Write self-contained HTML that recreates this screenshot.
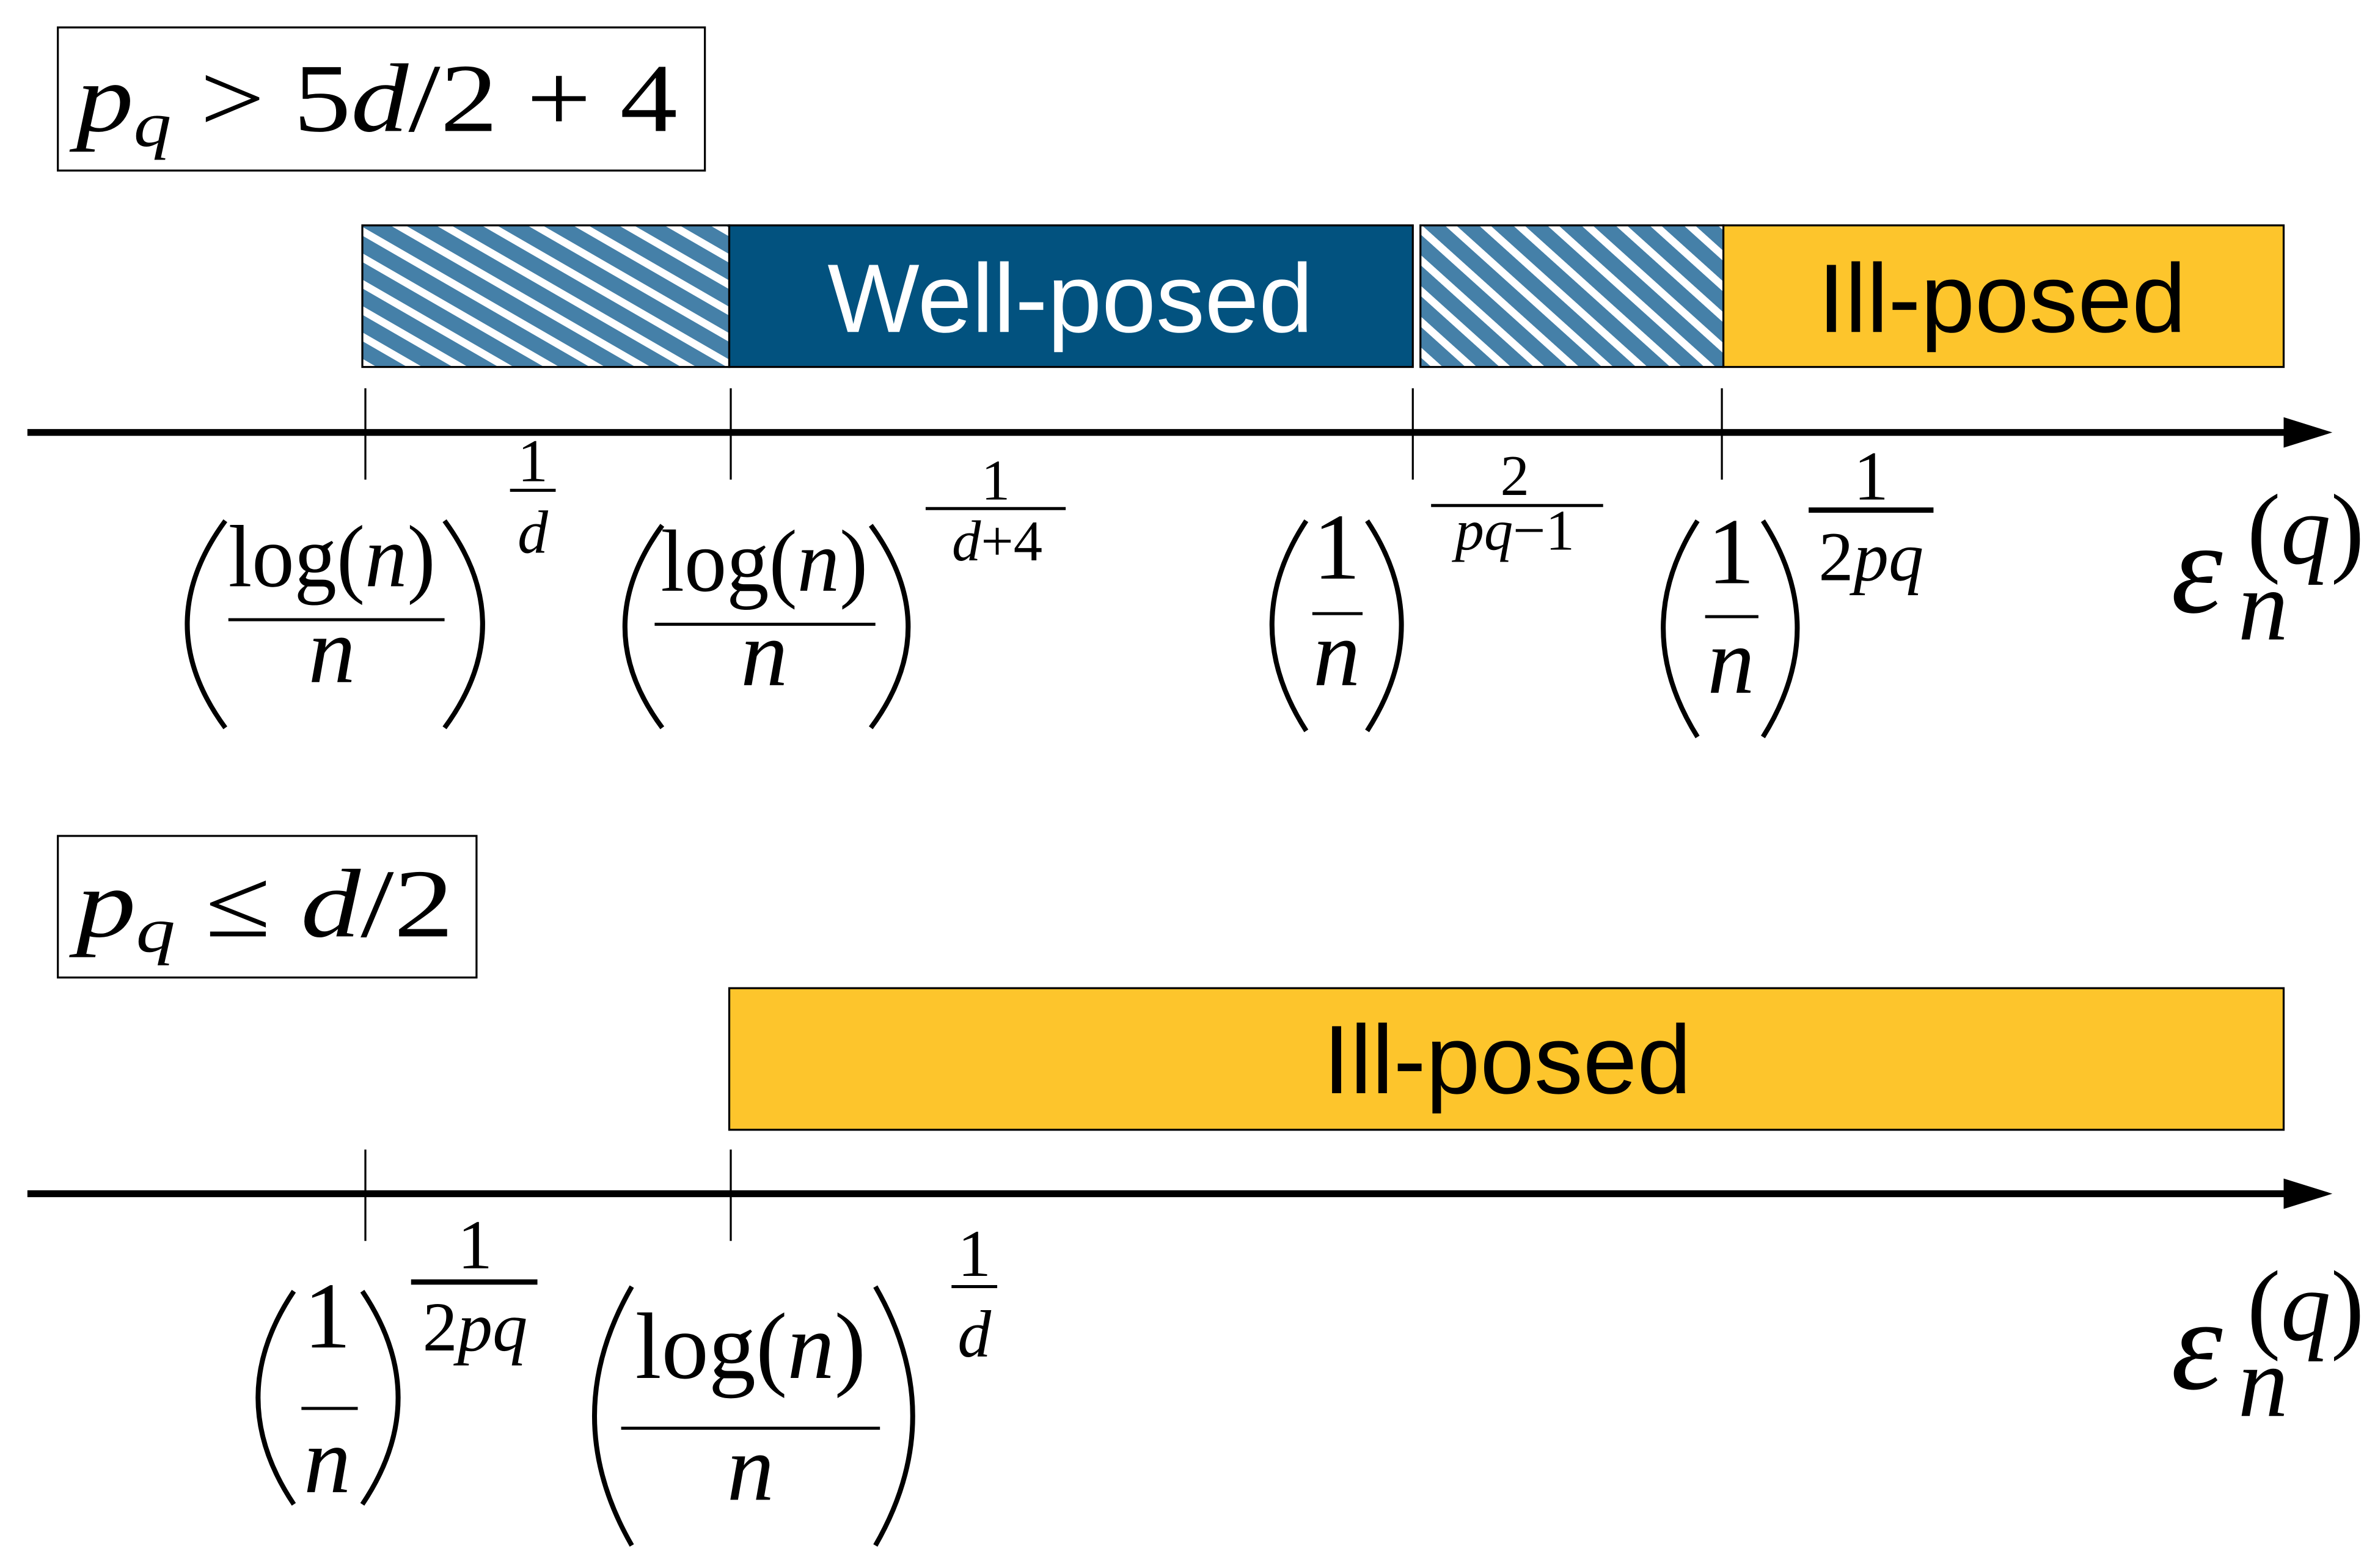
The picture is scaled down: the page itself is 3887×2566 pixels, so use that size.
<!DOCTYPE html>
<html><head><meta charset="utf-8"><style>
html,body{margin:0;padding:0;background:#fff;width:3887px;height:2566px;overflow:hidden}
svg{display:block}
.m{font-family:"Liberation Serif",serif;fill:#000}
.i{font-style:italic}
.s{font-family:"Liberation Sans",sans-serif}
</style></head><body>
<svg width="3887" height="2566" viewBox="0 0 1560 1029.8" xmlns="http://www.w3.org/2000/svg">
<defs>
<pattern id="h1" width="15" height="15" patternUnits="userSpaceOnUse" patternTransform="rotate(30)">
<rect width="15" height="15" fill="#fff"/><rect width="15" height="10" fill="#4580a8"/></pattern>
<pattern id="h2" width="15" height="15" patternUnits="userSpaceOnUse" patternTransform="rotate(42)">
<rect width="15" height="15" fill="#fff"/><rect width="15" height="10" fill="#4580a8"/></pattern>
</defs>
<rect width="1560" height="1030" fill="#fff"/>

<rect x="38" y="18" width="425" height="94" fill="#fff" stroke="#000" stroke-width="1.3"/>
<text class="m" x="50" y="86" font-size="64" textLength="395" lengthAdjust="spacingAndGlyphs"><tspan class="i">p</tspan><tspan class="i" font-size="42" dy="10">q</tspan><tspan dy="-10"> &gt; 5</tspan><tspan class="i">d</tspan><tspan>/2 + 4</tspan></text>

<rect x="238" y="148" width="241" height="93" fill="url(#h1)" stroke="#000" stroke-width="1.3"/>
<rect x="479" y="148" width="449" height="93" fill="#02527f" stroke="#000" stroke-width="1.3"/>
<rect x="933" y="148" width="199" height="93" fill="url(#h2)" stroke="#000" stroke-width="1.3"/>
<rect x="1132" y="148" width="368" height="93" fill="#fdc52c" stroke="#000" stroke-width="1.3"/>
<text class="s" x="703" y="218" font-size="64" fill="#fff" text-anchor="middle">Well-posed</text>
<text class="s" x="1315" y="218" font-size="64" fill="#000" text-anchor="middle">Ill-posed</text>

<line x1="18" y1="284" x2="1505" y2="284" stroke="#000" stroke-width="4.5"/>
<polygon points="1500,274 1532,284 1500,294" fill="#000"/>
<g stroke="#000" stroke-width="1.3">
<line x1="240" y1="255" x2="240" y2="315"/><line x1="480" y1="255" x2="480" y2="315"/>
<line x1="928" y1="255" x2="928" y2="315"/><line x1="1131" y1="255" x2="1131" y2="315"/>
</g>

<g fill="none" stroke="#000" stroke-width="3.2">
<path d="M148,342 Q98,410 148,478"/><path d="M292,342 Q342,410 292,478"/>
<path d="M435,345 Q386,412 435,478"/><path d="M572,345 Q621,412 572,478"/>
<path d="M858,342 Q813,410 858,480"/><path d="M898,342 Q943,410 898,480"/>
<path d="M1115,342 Q1070,412 1115,484"/><path d="M1158,342 Q1203,412 1158,484"/>
<path d="M193,848 Q146,918 193,988"/><path d="M238,848 Q285,918 238,988"/>
<path d="M415,845 Q366,930 415,1015"/><path d="M575,845 Q624,930 575,1015"/>
</g>
<g stroke="#000">
<line x1="150" y1="407" x2="292" y2="407" stroke-width="2"/>
<line x1="335" y1="322" x2="365" y2="322" stroke-width="2"/>
<line x1="430" y1="410" x2="575" y2="410" stroke-width="2"/>
<line x1="608" y1="334" x2="700" y2="334" stroke-width="2"/>
<line x1="862" y1="403" x2="895" y2="403" stroke-width="2"/>
<line x1="940" y1="332" x2="1053" y2="332" stroke-width="2"/>
<line x1="1120" y1="405" x2="1155" y2="405" stroke-width="2"/>
<line x1="1188" y1="335" x2="1270" y2="335" stroke-width="3.5"/>
<line x1="198" y1="925" x2="235" y2="925" stroke-width="2"/>
<line x1="270" y1="842" x2="353" y2="842" stroke-width="3.5"/>
<line x1="408" y1="938" x2="578" y2="938" stroke-width="2"/>
<line x1="625" y1="845" x2="655" y2="845" stroke-width="2"/>
</g>
<g class="m" text-anchor="middle">
<text x="218" y="385" font-size="58" textLength="136" lengthAdjust="spacingAndGlyphs">log(<tspan class="i">n</tspan>)</text>
<text class="i" x="218" y="448" font-size="62">n</text>
<text x="350" y="316" font-size="40">1</text>
<text class="i" x="350" y="363" font-size="40">d</text>

<text x="502" y="388" font-size="58" textLength="136" lengthAdjust="spacingAndGlyphs">log(<tspan class="i">n</tspan>)</text>
<text class="i" x="502" y="450" font-size="62">n</text>
<text x="654" y="328" font-size="38">1</text>
<text x="655" y="368" font-size="38"><tspan class="i">d</tspan>+4</text>

<text x="878" y="380" font-size="62">1</text>
<text class="i" x="878" y="450" font-size="62">n</text>
<text x="995" y="325" font-size="38">2</text>
<text x="995" y="361" font-size="38"><tspan class="i">pq</tspan>−1</text>

<text x="1137" y="383" font-size="62">1</text>
<text class="i" x="1137" y="455" font-size="62">n</text>
<text x="1229" y="328" font-size="46">1</text>
<text x="1229" y="381" font-size="46">2<tspan class="i">pq</tspan></text>

<text x="215" y="885" font-size="62">1</text>
<text class="i" x="215" y="980" font-size="62">n</text>
<text x="312" y="833" font-size="46">1</text>
<text x="312" y="887" font-size="46">2<tspan class="i">pq</tspan></text>

<text x="493" y="905" font-size="62">log(<tspan class="i">n</tspan>)</text>
<text class="i" x="493" y="985" font-size="62">n</text>
<text x="640" y="838" font-size="44">1</text>
<text class="i" x="640" y="891" font-size="44">d</text>
</g>

<g class="m">
<text class="i" x="1426" y="402" font-size="86">ε</text>
<text x="1476" y="370" font-size="66">(<tspan class="i">q</tspan>)</text>
<text class="i" x="1470" y="420" font-size="66">n</text>
<text class="i" x="1426" y="912" font-size="86">ε</text>
<text x="1476" y="880" font-size="66">(<tspan class="i">q</tspan>)</text>
<text class="i" x="1470" y="930" font-size="66">n</text>
</g>

<rect x="38" y="549" width="275" height="93" fill="#fff" stroke="#000" stroke-width="1.3"/>
<text class="m" x="50" y="615" font-size="64" textLength="248" lengthAdjust="spacingAndGlyphs"><tspan class="i">p</tspan><tspan class="i" font-size="42" dy="10">q</tspan><tspan dy="-10"> ≤ </tspan><tspan class="i">d</tspan><tspan>/2</tspan></text>

<rect x="479" y="649" width="1021" height="93" fill="#fdc52c" stroke="#000" stroke-width="1.3"/>
<text class="s" x="990" y="718" font-size="64" fill="#000" text-anchor="middle">Ill-posed</text>

<line x1="18" y1="784" x2="1505" y2="784" stroke="#000" stroke-width="4.5"/>
<polygon points="1500,774 1532,784 1500,794" fill="#000"/>
<g stroke="#000" stroke-width="1.3">
<line x1="240" y1="755" x2="240" y2="815"/><line x1="480" y1="755" x2="480" y2="815"/>
</g>
</svg>
</body></html>
